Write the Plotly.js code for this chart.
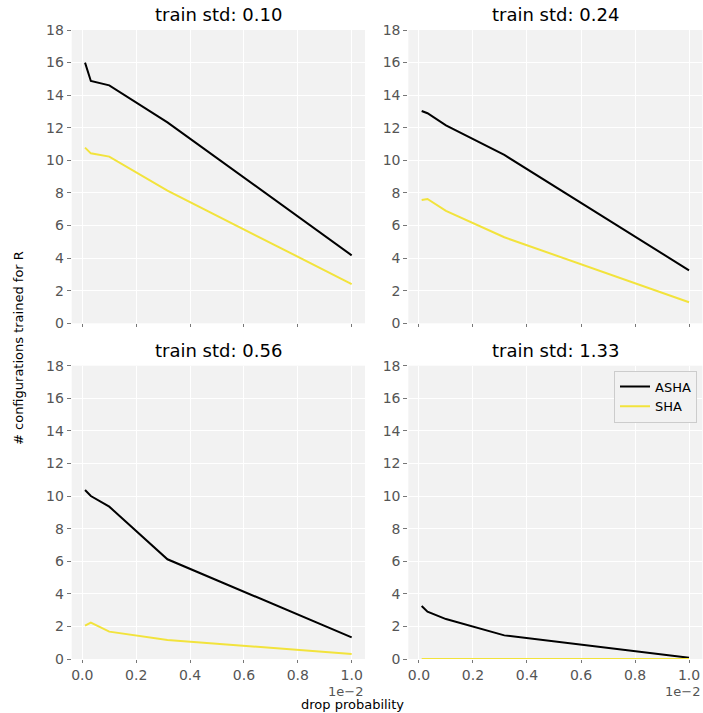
<!DOCTYPE html>
<html>
<head>
<meta charset="utf-8">
<script src="https://cdn.plot.ly/plotly-3.0.1.min.js"></script>
<style>html,body{margin:0;padding:0;background:#fff;}#chart{width:703px;height:713px;}</style>
</head>
<body>
<div id="chart"></div>
<script>
// drop probability in units of 1e-2
const dropProb = [0.01, 0.0316, 0.1, 0.316, 1.0];
const trainStds = ["0.10", "0.24", "0.56", "1.33"];
const ashaStd010 = [16.0, 14.87, 14.6, 12.33, 4.17];
const shaStd010 = [10.78, 10.43, 10.23, 8.14, 2.41];
const ashaStd024 = [13.03, 12.89, 12.15, 10.33, 3.25];
const shaStd024 = [7.57, 7.63, 6.9, 5.28, 1.29];
const ashaStd056 = [10.37, 10.0, 9.35, 6.12, 1.33];
const shaStd056 = [2.05, 2.23, 1.68, 1.17, 0.31];
const ashaStd133 = [3.25, 2.9, 2.45, 1.45, 0.08];
const shaStd133 = [0, 0, 0, 0, 0];
const xTicks = [0, 0.2, 0.4, 0.6, 0.8, 1.0];
const yTicks = [0, 2, 4, 6, 8, 10, 12, 14, 16, 18];

const ashaSets = [ashaStd010, ashaStd024, ashaStd056, ashaStd133];
const shaSets = [shaStd010, shaStd024, shaStd056, shaStd133];

const W = 703, H = 713;
const colDom = [[71.7 / W, 365 / W], [408.3 / W, 702.4 / W]];
const rowDom = [[(H - 323.3) / H, (H - 30) / H], [(H - 659) / H, (H - 365.7) / H]];

const traces = [];
const layout = {
  width: W, height: H,
  margin: {l: 0, r: 0, t: 0, b: 0},
  paper_bgcolor: '#ffffff',
  plot_bgcolor: '#f2f2f2',
  font: {family: 'DejaVu Sans', size: 13, color: '#555555'},
  showlegend: true,
  legend: {
    x: 697 / W, xanchor: 'right', y: (H - 370.5) / H, yanchor: 'top',
    bgcolor: '#f2f2f2', bordercolor: '#cccccc', borderwidth: 1,
    font: {family: 'DejaVu Sans', size: 13, color: '#000000'},
    tracegroupgap: 0
  },
  annotations: []
};

for (let i = 0; i < 4; i++) {
  const r = Math.floor(i / 2), c = i % 2;
  const sfx = i === 0 ? '' : String(i + 1);
  const xa = 'x' + sfx, ya = 'y' + sfx;
  traces.push({
    x: dropProb, y: ashaSets[i], xaxis: xa, yaxis: ya, type: 'scatter', mode: 'lines',
    name: 'ASHA', line: {color: '#000000', width: 2}, showlegend: i === 3, legendgroup: 'asha'
  });
  traces.push({
    x: dropProb, y: shaSets[i], xaxis: xa, yaxis: ya, type: 'scatter', mode: 'lines',
    name: 'SHA', line: {color: '#f2e33c', width: 2}, showlegend: i === 3, legendgroup: 'sha'
  });
  layout['xaxis' + sfx] = {
    domain: colDom[c], anchor: ya, range: [-0.0395, 1.0495],
    tickvals: xTicks, ticktext: xTicks.map(v => v.toFixed(1)),
    showticklabels: r === 1, ticks: 'outside', ticklen: 3, tickwidth: 1, tickcolor: '#777777',
    showgrid: true, gridcolor: '#ffffff', gridwidth: 1, zeroline: false, showline: false,
    tickfont: {size: 14, color: '#555555'}
  };
  layout['yaxis' + sfx] = {
    domain: rowDom[r], anchor: xa, range: [0, 18],
    tickvals: yTicks, ticks: 'outside', ticklen: 4, tickwidth: 1, tickcolor: '#777777',
    showgrid: true, gridcolor: '#ffffff', gridwidth: 1, zeroline: false, showline: false,
    tickfont: {size: 14, color: '#555555'}
  };
  layout.annotations.push({
    text: 'train std: ' + trainStds[i], xref: 'paper', yref: 'paper',
    x: (colDom[c][0] + colDom[c][1]) / 2, y: rowDom[r][1] + 3 / H,
    xanchor: 'center', yanchor: 'bottom', showarrow: false,
    font: {family: 'DejaVu Sans', size: 18, color: '#000000'}
  });
  if (r === 1) {
    layout.annotations.push({
      text: '1e\u22122', xref: 'paper', yref: 'paper',
      x: colDom[c][1], y: (H - 691) / H, xanchor: 'right', yanchor: 'middle', showarrow: false,
      font: {family: 'DejaVu Sans', size: 13, color: '#555555'}
    });
  }
}
layout.annotations.push({
  text: 'drop probability', xref: 'paper', yref: 'paper',
  x: 352 / W, y: (H - 704) / H, xanchor: 'center', yanchor: 'middle', showarrow: false,
  font: {family: 'DejaVu Sans', size: 13, color: '#000000'}
});
layout.annotations.push({
  text: '# configurations trained for R', xref: 'paper', yref: 'paper',
  x: 18 / W, y: (H - 348) / H, xanchor: 'center', yanchor: 'middle', showarrow: false, textangle: -90,
  font: {family: 'DejaVu Sans', size: 13, color: '#000000'}
});

Plotly.newPlot('chart', traces, layout, {displayModeBar: false, staticPlot: true});
</script>
</body>
</html>
